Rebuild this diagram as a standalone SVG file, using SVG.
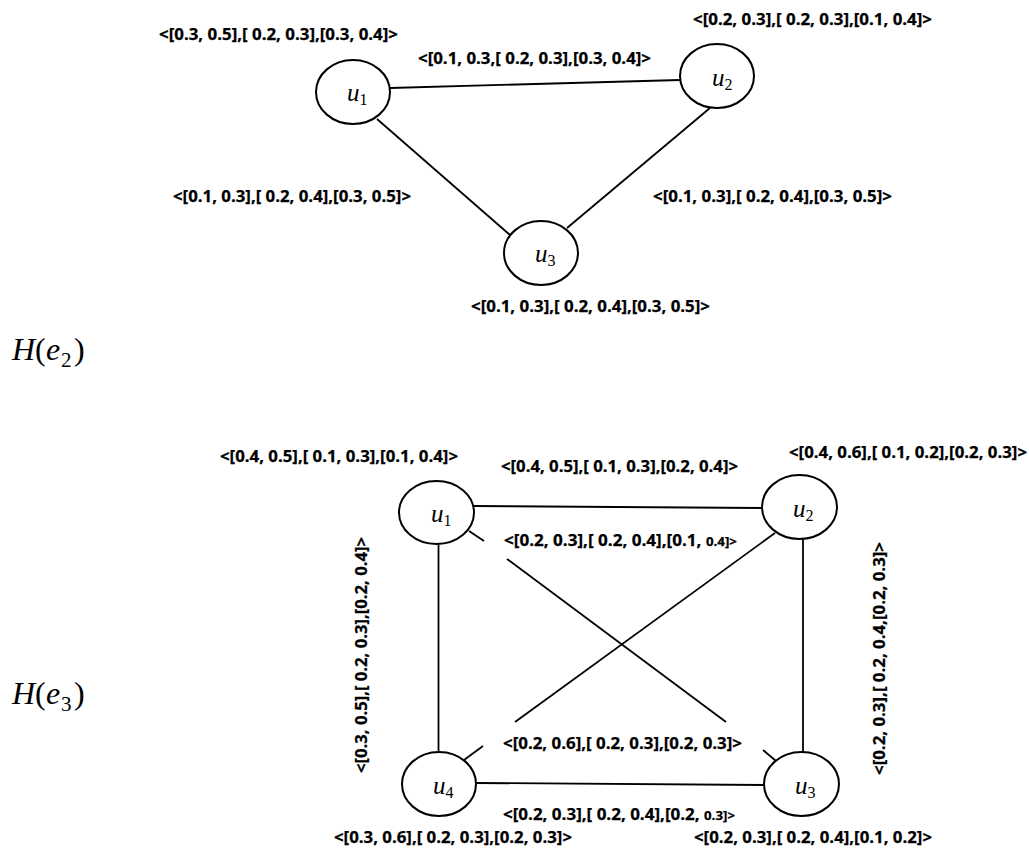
<svg xmlns="http://www.w3.org/2000/svg" width="1029" height="854" viewBox="0 0 1029 854">
<style>
.lbl{font-family:"Open Sans","Lato","Liberation Sans",sans-serif;font-weight:700;font-size:16px;fill:#000;stroke:#000;stroke-width:0.25}
.sm{font-size:12.5px}
.node ellipse{fill:#fff;stroke:#000;stroke-width:2}
.nl{font-family:"Liberation Serif","DejaVu Serif",serif;font-size:25px;fill:#000}
.nl .v{font-style:italic}
.nl .s{font-size:16px}
.edges line{stroke:#000;stroke-width:1.8;fill:none}
.ttl{font-family:"Liberation Serif","DejaVu Serif",serif;font-size:32px;fill:#000}
.ttl .i{font-style:italic}
.ttl .s{font-size:21px}
</style>
<rect width="1029" height="854" fill="#fff"/>

<!-- Top graph connectors -->
<g id="edges-top" class="edges">
<line x1="390" y1="88" x2="680" y2="80"/>
<line x1="377" y1="119" x2="510" y2="235"/>
<line x1="710" y1="108" x2="567" y2="228"/>
</g>

<!-- Bottom graph connectors -->
<g id="edges-bottom" class="edges">
<line x1="474" y1="506" x2="762" y2="508"/>
<line x1="438.5" y1="544" x2="438.5" y2="752"/>
<line x1="803" y1="539" x2="803" y2="752"/>
<line x1="476" y1="783" x2="764" y2="785"/>
<line x1="469" y1="531" x2="484" y2="541"/>
<line x1="507" y1="559" x2="726" y2="722"/>
<line x1="763" y1="750" x2="776" y2="761"/>
<line x1="775" y1="533" x2="515" y2="722"/>
<line x1="483" y1="746" x2="464" y2="760"/>
</g>

<!-- Top graph nodes -->
<g id="top-u1" class="node">
<ellipse cx="353" cy="92" rx="37" ry="32"/>
<text class="nl" x="347" y="101"><tspan class="v">u</tspan><tspan class="s" dy="4">1</tspan></text>
</g>
<g id="top-u2" class="node">
<ellipse cx="717" cy="76" rx="37" ry="32"/>
<text class="nl" x="712" y="86"><tspan class="v">u</tspan><tspan class="s" dy="4">2</tspan></text>
</g>
<g id="top-u3" class="node">
<ellipse cx="541" cy="253" rx="37" ry="32"/>
<text class="nl" x="535" y="262"><tspan class="v">u</tspan><tspan class="s" dy="4">3</tspan></text>
</g>

<!-- Bottom graph nodes -->
<g id="bot-u1" class="node">
<ellipse cx="436.5" cy="512.5" rx="37.5" ry="31.5"/>
<text class="nl" x="431" y="522"><tspan class="v">u</tspan><tspan class="s" dy="4">1</tspan></text>
</g>
<g id="bot-u2" class="node">
<ellipse cx="799.5" cy="507" rx="37.5" ry="32"/>
<text class="nl" x="793" y="517"><tspan class="v">u</tspan><tspan class="s" dy="4">2</tspan></text>
</g>
<g id="bot-u3" class="node">
<ellipse cx="801.5" cy="784" rx="37.5" ry="32"/>
<text class="nl" x="795" y="794"><tspan class="v">u</tspan><tspan class="s" dy="4">3</tspan></text>
</g>
<g id="bot-u4" class="node">
<ellipse cx="439" cy="784" rx="37" ry="32"/>
<text class="nl" x="433" y="794"><tspan class="v">u</tspan><tspan class="s" dy="4">4</tspan></text>
</g>

<!-- Top graph labels -->
<g id="labels-top">
<text class="lbl" x="159" y="40" textLength="239" lengthAdjust="spacingAndGlyphs">&lt;[0.3, 0.5],[ 0.2, 0.3],[0.3, 0.4]&gt;</text>
<text class="lbl" x="418" y="64" textLength="233" lengthAdjust="spacingAndGlyphs">&lt;[0.1, 0.3,[ 0.2, 0.3],[0.3, 0.4]&gt;</text>
<text class="lbl" x="693" y="25" textLength="239" lengthAdjust="spacingAndGlyphs">&lt;[0.2, 0.3],[ 0.2, 0.3],[0.1, 0.4]&gt;</text>
<text class="lbl" x="173" y="202" textLength="238" lengthAdjust="spacingAndGlyphs">&lt;[0.1, 0.3],[ 0.2, 0.4],[0.3, 0.5]&gt;</text>
<text class="lbl" x="653" y="202" textLength="239" lengthAdjust="spacingAndGlyphs">&lt;[0.1, 0.3],[ 0.2, 0.4],[0.3, 0.5]&gt;</text>
<text class="lbl" x="471" y="312" textLength="239" lengthAdjust="spacingAndGlyphs">&lt;[0.1, 0.3],[ 0.2, 0.4],[0.3, 0.5]&gt;</text>
</g>

<!-- Titles -->
<g id="title-e2">
<text class="ttl" y="360"><tspan class="i" x="12">H</tspan><tspan x="35">(</tspan><tspan class="i" x="46">e</tspan><tspan class="s" x="61" dy="7">2</tspan><tspan x="74" dy="-7">)</tspan></text>
</g>
<g id="title-e3">
<text class="ttl" y="704"><tspan class="i" x="12">H</tspan><tspan x="35">(</tspan><tspan class="i" x="46">e</tspan><tspan class="s" x="61" dy="7">3</tspan><tspan x="74" dy="-7">)</tspan></text>
</g>

<!-- Bottom graph labels -->
<g id="labels-bottom">
<text class="lbl" x="220" y="462" textLength="238" lengthAdjust="spacingAndGlyphs">&lt;[0.4, 0.5],[ 0.1, 0.3],[0.1, 0.4]&gt;</text>
<text class="lbl" x="501" y="472" textLength="237" lengthAdjust="spacingAndGlyphs">&lt;[0.4, 0.5],[ 0.1, 0.3],[0.2, 0.4]&gt;</text>
<text class="lbl" x="789" y="458" textLength="238" lengthAdjust="spacingAndGlyphs">&lt;[0.4, 0.6],[ 0.1, 0.2],[0.2, 0.3]&gt;</text>
<text class="lbl" x="504" y="546" textLength="233" lengthAdjust="spacingAndGlyphs">&lt;[0.2, 0.3],[ 0.2, 0.4],[0.1, <tspan class="sm">0.4]&gt;</tspan></text>
<text class="lbl" x="503" y="749" textLength="239" lengthAdjust="spacingAndGlyphs">&lt;[0.2, 0.6],[ 0.2, 0.3],[0.2, 0.3]&gt;</text>
<text class="lbl" x="503" y="820" textLength="232" lengthAdjust="spacingAndGlyphs">&lt;[0.2, 0.3],[ 0.2, 0.4],[0.2, <tspan class="sm">0.3]&gt;</tspan></text>
<text class="lbl" x="334" y="843" textLength="238" lengthAdjust="spacingAndGlyphs">&lt;[0.3, 0.6],[ 0.2, 0.3],[0.2, 0.3]&gt;</text>
<text class="lbl" x="694" y="843" textLength="238" lengthAdjust="spacingAndGlyphs">&lt;[0.2, 0.3],[ 0.2, 0.4],[0.1, 0.2]&gt;</text>
<text class="lbl" transform="translate(367,773) rotate(-90)" x="0" y="0" textLength="236" lengthAdjust="spacingAndGlyphs">&lt;[0.3, 0.5],[ 0.2, 0.3],[0.2, 0.4]&gt;</text>
<text class="lbl" transform="translate(885,775) rotate(-90)" x="0" y="0" textLength="233" lengthAdjust="spacingAndGlyphs">&lt;[0.2, 0.3],[ 0.2, 0.4,[0.2, 0.3]&gt;</text>
</g>
</svg>
